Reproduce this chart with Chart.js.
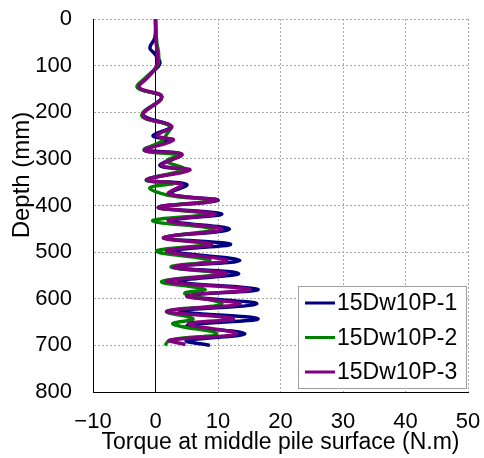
<!DOCTYPE html>
<html>
<head>
<meta charset="utf-8">
<script src="https://cdn.jsdelivr.net/npm/chart.js@4/dist/chart.umd.min.js"></script>
<style>
  html, body { margin: 0; padding: 0; background: #fff; }
  #wrap { width: 484px; height: 458px; }
</style>
</head>
<body>
<div id="wrap"><canvas id="chart" width="484" height="458"></canvas></div>
<script>
// torque profiles along the pile, depth in mm and torque in N.m
const depthP1  = [0, 40, 62, 75, 95, 120, 147, 167, 205, 230, 250, 260, 280, 290, 314, 324, 345, 355, 375, 389, 404, 418, 433, 451, 469, 483, 498, 518, 532, 546, 563, 580, 594, 611, 627, 643, 658, 675, 690, 700];
const torqueP1 = [0, -0.1, -0.9, -0.1, 0.7, -1.0, -2.7, 1.0, -2.0, 2.5, -0.4, 2.0, -1.7, 4.2, 0.7, 4.8, -1.4, 5.0, 2.3, 10.0, 0.5, 10.6, 2.6, 11.8, 1.3, 12.0, 2.9, 13.5, 2.9, 13.3, 3.7, 16.4, 5.5, 16.2, 3.9, 16.4, 5.0, 14.3, 5.0, 8.7];

const depthP2  = [0, 50, 75, 100, 125, 147, 167, 207, 230, 247, 262, 282, 292, 305, 322, 345, 352, 362, 378, 389, 404, 418, 433, 451, 469, 483, 498, 518, 532, 546, 563, 580, 589, 611, 627, 643, 654, 675, 689, 700];
const torqueP2 = [0, 0.2, 0.5, 0.3, -1.5, -2.9, 1.0, -2.2, 2.4, 1.8, 1.0, -1.8, 3.5, 1.8, 4.5, -1.5, 3.0, -0.9, 2.0, 9.0, 0.4, 8.2, -0.45, 9.3, 1.5, 8.0, 0.2, 8.7, 2.5, 10.5, 1.0, 7.9, 4.7, 10.6, 1.8, 6.0, 2.8, 9.8, 2.3, 1.5];

const depthP3  = [0, 50, 75, 100, 125, 147, 167, 207, 230, 250, 260, 282, 290, 314, 324, 345, 355, 375, 389, 404, 418, 433, 451, 469, 483, 498, 518, 532, 546, 563, 580, 594, 611, 627, 643, 654, 675, 689, 698];
const torqueP3 = [0, 0.1, 0.3, 0.2, -1.2, -2.6, 1.0, -2.0, 2.6, 0.3, 2.85, -1.7, 4.2, 1.0, 5.5, -1.4, 4.2, 2.1, 9.8, 0.45, 9.5, 2.05, 10.6, 1.25, 9.0, 1.8, 11.4, 2.85, 11.4, 1.8, 15.1, 5.0, 13.5, 1.8, 12.45, 5.25, 13.0, 2.3, 4.8];

const seriesNames  = ['15Dw10P-1', '15Dw10P-2', '15Dw10P-3'];
const seriesColors = ['#000080', '#008000', '#800080'];

const xTicks = [-10, 0, 10, 20, 30, 40, 50];
const yTicks = [0, 100, 200, 300, 400, 500, 600, 700, 800];

const xTitle = 'Torque at middle pile surface (N.m)';
const yTitle = 'Depth (mm)';

const FONT = 'Liberation Sans, Arial, sans-serif';

function toPoints(depths, torques) {
  return depths.map((d, i) => ({ x: torques[i], y: d }));
}

const profiles = [
  toPoints(depthP1, torqueP1),
  toPoints(depthP2, torqueP2),
  toPoints(depthP3, torqueP3)
];

// solid zero line, drawn under the data on top of the dotted grid line
const zeroLine = {
  id: 'zeroLine',
  beforeDatasetsDraw(chart) {
    const { ctx, chartArea, scales } = chart;
    const x = Math.round(scales.x.getPixelForValue(0) - 0.5) + 0.5;
    ctx.save();
    ctx.strokeStyle = '#000';
    ctx.lineWidth = 1;
    ctx.beginPath();
    ctx.moveTo(x, chartArea.top);
    ctx.lineTo(x, chartArea.bottom);
    ctx.stroke();
    ctx.restore();
  }
};

// vertical axis title, sitting a bit above the middle of the axis
const sideTitle = {
  id: 'sideTitle',
  afterDraw(chart) {
    const { ctx } = chart;
    ctx.save();
    ctx.translate(22, 175);
    ctx.rotate(-Math.PI / 2);
    ctx.font = '24px ' + FONT;
    ctx.fillStyle = '#000';
    ctx.textAlign = 'center';
    ctx.textBaseline = 'middle';
    ctx.fillText(yTitle, 0, 0);
    ctx.restore();
  }
};

// boxed legend in the lower right corner of the plot
const boxLegend = {
  id: 'boxLegend',
  afterDraw(chart) {
    const { ctx, chartArea } = chart;
    const w = 168, h = 102;
    const left = chartArea.right - 2 - w;
    const top = chartArea.bottom - 4 - h;
    ctx.save();
    ctx.fillStyle = '#fff';
    ctx.fillRect(left, top, w, h);
    ctx.strokeStyle = '#a0a0a0';
    ctx.lineWidth = 1;
    ctx.strokeRect(left + 0.5, top + 0.5, w, h);
    ctx.font = '23px ' + FONT;
    ctx.textBaseline = 'middle';
    ctx.fillStyle = '#000';
    chart.data.datasets.forEach((ds, i) => {
      const y = top + 17 + i * 34.5;
      ctx.strokeStyle = ds.borderColor;
      ctx.lineWidth = 3;
      ctx.beginPath();
      ctx.moveTo(left + 7, y);
      ctx.lineTo(left + 37, y);
      ctx.stroke();
      ctx.fillText(ds.label, left + 39, y + 1);
    });
    ctx.restore();
  }
};

new Chart(document.getElementById('chart'), {
  type: 'scatter',
  data: {
    datasets: profiles.map((pts, i) => ({
      label: seriesNames[i],
      data: pts,
      showLine: true,
      borderColor: seriesColors[i],
      backgroundColor: seriesColors[i],
      borderWidth: 3.5,
      pointRadius: 0,
      tension: 0.4,
      // later series sit on top
      order: seriesNames.length - i
    }))
  },
  options: {
    responsive: false,
    animation: false,
    layout: { padding: { top: 19, right: 16, left: 0, bottom: 0 } },
    plugins: {
      legend: { display: false },
      tooltip: { enabled: false }
    },
    scales: {
      x: {
        type: 'linear',
        min: -10,
        max: 50,
        afterBuildTicks(scale) { scale.ticks = xTicks.map(v => ({ value: v })); },
        afterFit(scale) {
          scale.height = 66;
          scale.paddingLeft = 0;
          scale.paddingRight = 0;
        },
        ticks: {
          color: '#000',
          font: { family: FONT, size: 22 },
          padding: 17,
          callback: v => (v < 0 ? '\u2212' + Math.abs(v) : String(v))
        },
        grid: { color: '#a8a8a8', drawTicks: false },
        border: { color: '#000', dash: [2, 2] },
        title: {
          display: true,
          text: xTitle,
          color: '#000',
          font: { family: FONT, size: 23 },
          padding: { top: 0, bottom: 2 }
        }
      },
      y: {
        type: 'linear',
        reverse: true,
        min: 0,
        max: 800,
        afterBuildTicks(scale) { scale.ticks = yTicks.map(v => ({ value: v })); },
        afterFit(scale) {
          scale.width = 93;
          scale.paddingTop = 0;
          scale.paddingBottom = 0;
        },
        ticks: {
          color: '#000',
          font: { family: FONT, size: 22 },
          padding: 21
        },
        grid: { color: '#a8a8a8', drawTicks: false },
        border: { color: '#000', dash: [2, 2] }
      }
    }
  },
  plugins: [zeroLine, sideTitle, boxLegend]
});
</script>
</body>
</html>
